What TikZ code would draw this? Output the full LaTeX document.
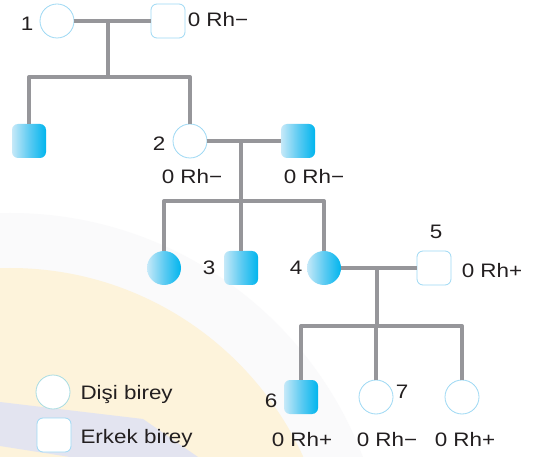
\documentclass[tikz,border=0pt]{standalone}
\usepackage{fontspec}
\setmainfont{Liberation Sans}[FakeStretch=1.15]
\usetikzlibrary{calc}
\definecolor{pedCyan}{HTML}{00B5EE}
\definecolor{pedMid}{HTML}{5ECBF2}
\definecolor{pedLight}{HTML}{C6E9F8}
\definecolor{pedEdge}{HTML}{9ED9F4}
\definecolor{pedTeal}{HTML}{A9DCE2}
\definecolor{pedGray}{HTML}{96969A}
\definecolor{pedInk}{HTML}{231F20}
\definecolor{pedSand}{HTML}{FDF3DB}
\definecolor{pedMist}{HTML}{FAFAFB}
\definecolor{pedLilac}{HTML}{E3E4F0}
\begin{document}
\begin{tikzpicture}[x=1pt,y=-1pt,line cap=round,line join=round]
\path[fill=white] (0,0) rectangle (533,457);
\begin{scope}
\clip (0,0) rectangle (533,457);
\fill[pedMist] (10,590) circle[radius=377pt];
\fill[pedSand] (10,590) circle[radius=322pt];
\fill[pedLilac] (0,402) -- (143,419) -- (198,457) -- (70,457) -- (0,446) -- cycle;
\end{scope}
\tikzset{link/.style={draw=pedGray,line width=4pt,line cap=butt},female/.style={circle,draw=pedEdge,line width=0.8pt,fill=white,minimum size=34pt,inner sep=0pt},male/.style={rectangle,rounded corners=6pt,draw=pedEdge,line width=0.8pt,fill=white,minimum size=34pt,inner sep=0pt},affected/.style={draw=none,left color=pedLight,right color=pedCyan,middle color=pedMid},txt/.style={anchor=base,text=pedInk,font=\fontsize{19.5}{22}\selectfont}}
\node[female] (f1) at (57,21) {}; \node[male] (m1) at (168,21) {};
\node[txt] (n1) at (27,31) {1}; \node[txt] (r1) at (218,27) {0 Rh−};
\node[male,affected] (c11) at (29,141) {}; \node[female] (f2) at (190,141) {}; \node[male,affected] (m2) at (298,141) {};
\node[txt] (n2) at (159,151) {2}; \node[txt] (r2) at (192,184) {0 Rh−}; \node[txt] (r3) at (314,184) {0 Rh−};
\node[female,affected] (c21) at (164,268) {}; \node[male,affected] (c22) at (241,268) {}; \node[female,affected] (f4) at (324,268) {}; \node[male] (m5) at (434,268) {};
\node[txt] (n3) at (209,275) {3}; \node[txt] (n4) at (296,275) {4}; \node[txt] (n5) at (436,239) {5}; \node[txt] (r4) at (492,277) {0 Rh+};
\node[male,affected] (c31) at (301,397) {}; \node[female] (c32) at (376,397) {}; \node[female] (c33) at (462,397) {};
\node[txt] (n6) at (271,407) {6}; \node[txt] (n7) at (402,398) {7};
\node[txt] (r5) at (302,446) {0 Rh+}; \node[txt] (r6) at (387,446) {0 Rh−}; \node[txt] (r7) at (465,446) {0 Rh+};
\node[female,draw=pedTeal] (lf) at (53,392) {}; \node[male] (lm) at (54,435) {};
\node[txt,anchor=base west] (lt1) at (77,399) {Dişi birey}; \node[txt,anchor=base west] (lt2) at (77,443) {Erkek birey};
\coordinate (u1) at (108,21); \coordinate (s1) at (108,77);
\coordinate (u2) at (241,141); \coordinate (s2) at (241,201);
\coordinate (u3) at (377,268); \coordinate (s3) at (377,326);
\draw[link] (f1) -- (m1); \draw[link] (u1) -- (s1);
\draw[link] (c11.north) -- (c11.north |- s1) -- (f2.north |- s1) -- (f2.north);
\draw[link] (f2) -- (m2); \draw[link] (u2) -- (s2);
\draw[link] (c21.north) -- (c21.north |- s2) -- (f4.north |- s2) -- (f4.north); \draw[link] (c22.north) -- (c22.north |- s2);
\draw[link] (f4) -- (m5); \draw[link] (u3) -- (s3);
\draw[link] (c31.north) -- (c31.north |- s3) -- (c33.north |- s3) -- (c33.north); \draw[link] (c32.north) -- (c32.north |- s3);
\end{tikzpicture}
\end{document}
